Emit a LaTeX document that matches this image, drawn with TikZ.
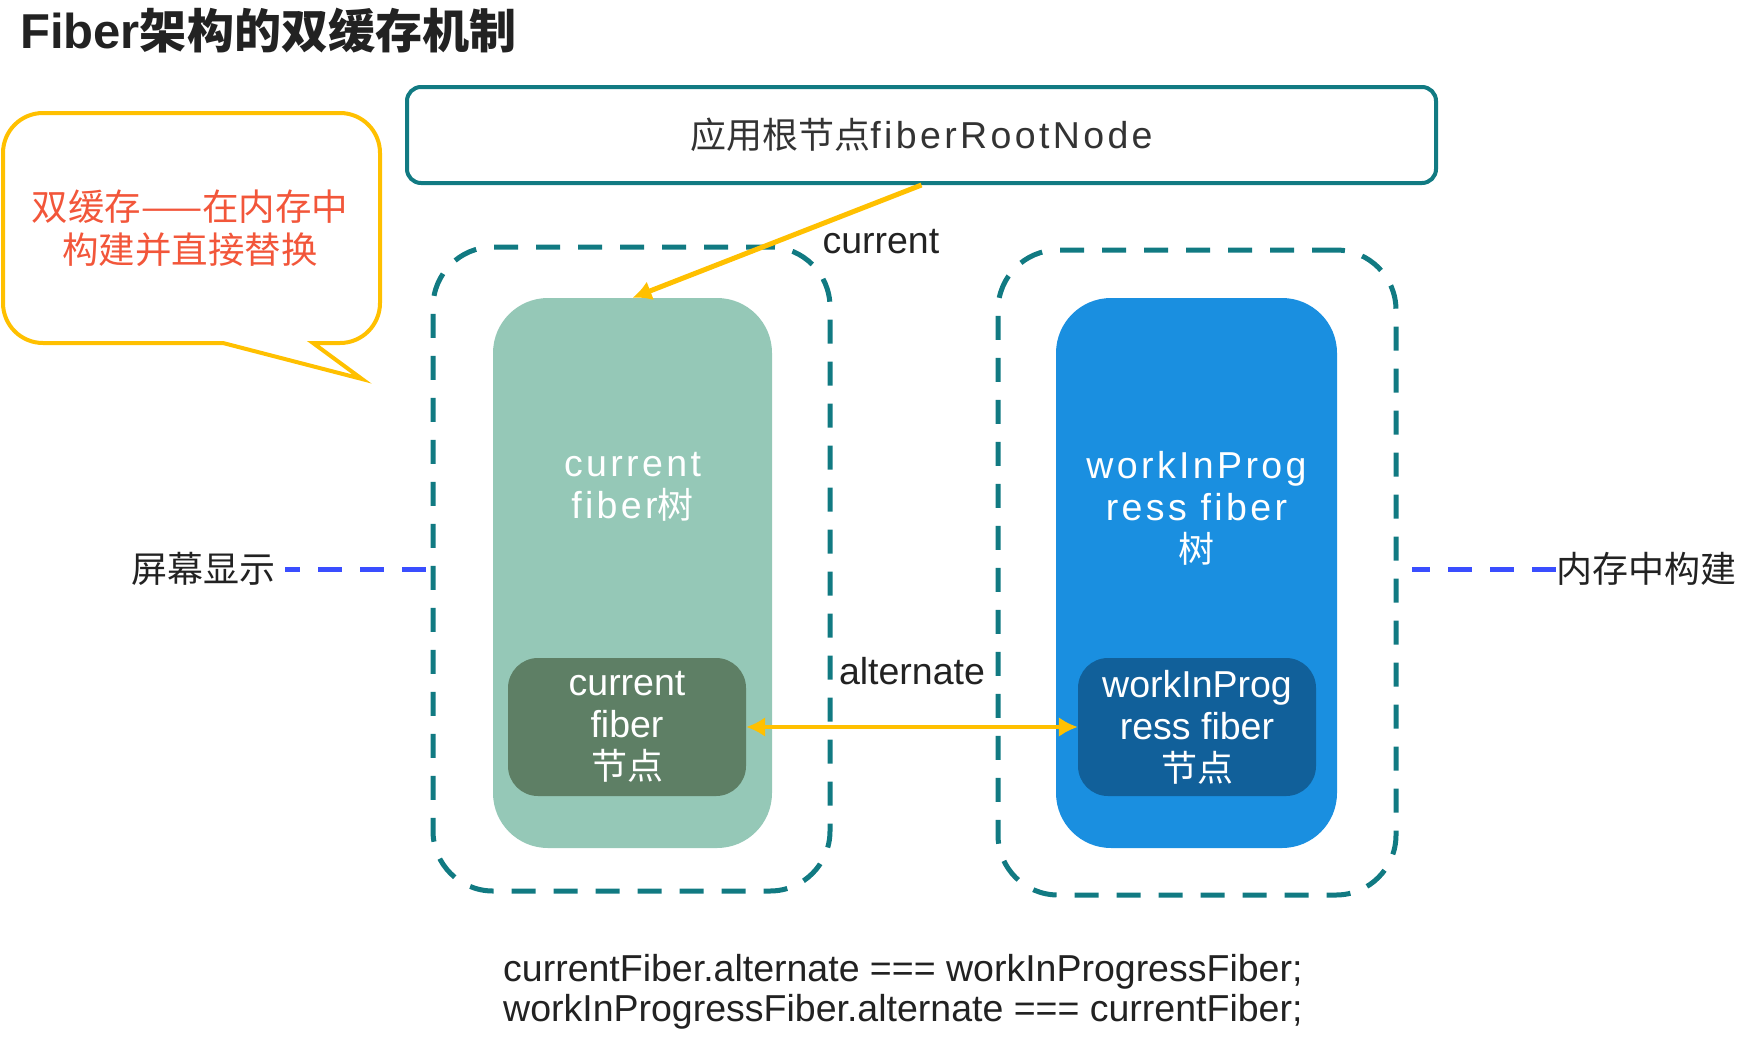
\documentclass[tikz,border=0pt]{standalone}
\usepackage{fontspec}
\setmainfont{Liberation Sans}
\newfontfamily\cjk[Scale=0.96]{Noto Sans CJK SC}
\newfontfamily\spaced[LetterSpace=9]{Liberation Sans}
\usepackage{xcolor}
\usepackage{tikz}
\usetikzlibrary{positioning,arrows.meta}

\definecolor{tealline}{HTML}{117A82}
\definecolor{fibyellow}{HTML}{FFC000}
\definecolor{curgreen}{HTML}{95C8B7}
\definecolor{curdark}{HTML}{5E7F65}
\definecolor{wipblue}{HTML}{1A8FE0}
\definecolor{wipdark}{HTML}{11609A}
\definecolor{screenblue}{HTML}{3A4EFF}
\definecolor{notered}{HTML}{F2563A}
\definecolor{textdark}{HTML}{222222}
\definecolor{rootgray}{HTML}{333333}

\newcommand{\zh}[1]{{\cjk #1}}

\begin{document}
\begin{tikzpicture}[
    x=1pt, y=-1pt,
    every node/.style={
        inner sep=0pt,
        font=\fontsize{37.5}{42}\selectfont,
        text=textdark
    },
    rootbox/.style={
        draw=tealline,
        line width=4pt,
        rounded corners=14pt,
        minimum width=1029pt,
        minimum height=96pt,
        text=rootgray
    },
    bufferbox/.style={
        draw=tealline,
        line width=5pt,
        dash pattern=on 24pt off 18pt,
        rounded corners=60pt
    },
    treebox/.style={rounded corners=55pt, minimum height=550pt},
    treetext/.style={text=white, align=center},
    fibernode/.style={
        rounded corners=30pt,
        minimum width=238pt,
        minimum height=138pt,
        text=white,
        align=center
    },
    callout/.style={draw=fibyellow, line width=4pt},
    link/.style={draw=fibyellow, line width=4pt},
    screenline/.style={draw=screenblue, line width=5pt, dash pattern=on 24pt off 18pt},
    >={Latex[length=19pt,width=20pt]}
]
\useasboundingbox (0,0) rectangle (1752,1044);

% Title
\node[anchor=west, font=\fontsize{49}{56}\selectfont\bfseries] (title) at (20,31) {Fiber\zh{架构的双缓存机制}};

% Root node
\node[rootbox] (root) at (921.5,135) {\zh{应用根节点}{\spaced fiberRootNode}};

% Speech bubble
\draw[callout] (223,343) -- (43,343) arc[start angle=90, end angle=180, radius=40]
    -- (3,153) arc[start angle=180, end angle=270, radius=40]
    -- (340,113) arc[start angle=270, end angle=360, radius=40]
    -- (380,303) arc[start angle=0, end angle=90, radius=40]
    -- (313,343) -- (362,379) -- cycle;
\node[text=notered, align=center, font=\fontsize{38}{43}\selectfont] (note) at (190,228) {\zh{双缓存——在内存中}\\\zh{构建并直接替换}};

% Two buffers
\node[bufferbox, minimum width=397pt, minimum height=644pt] (curbuf) at (631.5,569) {};
\node[bufferbox, minimum width=398pt, minimum height=645pt] (wipbuf) at (1197,572.5) {};

% Trees
\node[treebox, fill=curgreen, minimum width=279pt] (curtree) at (632.5,573) {};
\node[treebox, fill=wipblue, minimum width=281pt] (wiptree) at (1196.5,573) {};
\node[treetext] (curtreetxt) at (632.5,487) {{\spaced current}\\{\spaced fiber}\zh{树}};
\node[treetext] (wiptreetxt) at (1196.5,508) {{\spaced workInProg}\\{\spaced ress fiber}\\\zh{树}};

% Fiber nodes
\node[fibernode, fill=curdark] (curnode) at (627,727) {current\\fiber\\\zh{节点}};
\node[fibernode, fill=wipdark] (wipnode) at (1197,727) {workInProg\\ress fiber\\\zh{节点}};

% Pointers
\draw[link,line width=5pt,->] (root.south) -- (curtree.north) node[midway, right=43pt] (curlbl) {current};
\draw[link,<->] (curnode.east) -- (wipnode.west) node[midway, above=40pt] (altlbl) {alternate};

% Side labels
\node (screen) at (203,569) {\zh{屏幕显示}};
\node (memory) at (1646,569) {\zh{内存中构建}};
\draw[screenline, shorten <=5pt, shorten >=10pt] (curbuf.west |- screen) -- (screen.east);
\draw[screenline, shorten >=13pt] (memory.west) -- (wipbuf.east |- memory);

% Code
\node[anchor=west, align=left, font=\fontsize{37.5}{40}\selectfont] (code) at (503,992) {currentFiber.alternate === workInProgressFiber;\\workInProgressFiber.alternate === currentFiber;};

\end{tikzpicture}
\end{document}
